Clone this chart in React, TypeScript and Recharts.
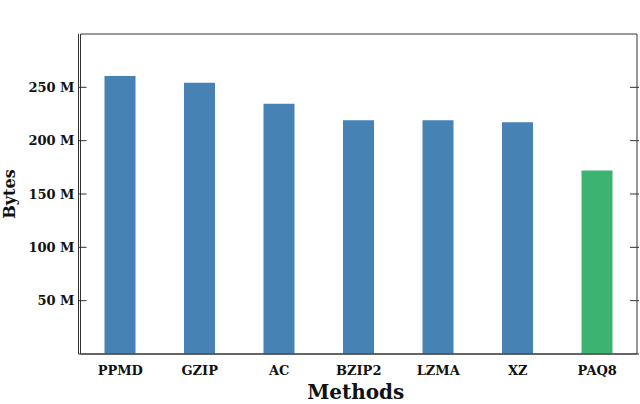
import { BarChart, Bar, XAxis, YAxis, Cell, ReferenceArea } from 'recharts';

const methods = ['PPMD', 'GZIP', 'AC', 'BZIP2', 'LZMA', 'XZ', 'PAQ8'];
const bytes = [260.7e6, 254.4e6, 234.5e6, 219.2e6, 219.2e6, 217.3e6, 172e6];
const barColors = ['#4682b4', '#4682b4', '#4682b4', '#4682b4', '#4682b4', '#4682b4', '#3cb371'];
const yTicks = [50e6, 100e6, 150e6, 200e6, 250e6];

const data = methods.map((name, i) => ({ name, bytes: bytes[i] }));

const font = '"DejaVu Serif", serif';
const axisColor = '#333';
const plotWidth = 640 - 1 - 78.5;

const fmt = (v: number) => `${v / 1e6} M`;

function LeftTick({ x, y, payload }: any) {
  const right = x + plotWidth;
  return (
    <g>
      <line x1={x} x2={x + 8} y1={y} y2={y} stroke={axisColor} strokeWidth={1} />
      <line x1={right} x2={right - 9} y1={y} y2={y} stroke={axisColor} strokeWidth={1} />
      <text x={x - 4} y={y} dy="0.36em" textAnchor="end" fontFamily={font} fontWeight="bold" fontSize={13} fill="#111">
        {fmt(payload.value)}
      </text>
    </g>
  );
}

function BottomTick({ x, y, payload }: any) {
  return (
    <text x={x} y={y + 21} textAnchor="middle" fontFamily={font} fontWeight="bold" fontSize={13} fill="#111">
      {payload.value}
    </text>
  );
}

export default function App() {
  return (
    <div style={{ position: 'absolute', left: 0, top: 0, width: 640, height: 404, background: '#fff' }}>
      <BarChart width={640} height={404} data={data} margin={{ top: 34, right: 1, bottom: 0, left: 0 }}>
        <XAxis
          dataKey="name"
          height={50}
          interval={0}
          tickLine={false}
          tickSize={0}
          tickMargin={0}
          tick={<BottomTick />}
          padding={{ left: 2, right: 2 }}
          axisLine={{ stroke: axisColor }}
          label={{
            content: ({ viewBox }: any) => (
              <text
                x={viewBox.x + viewBox.width / 2 - 3}
                y={399}
                textAnchor="middle"
                fontFamily={font}
                fontWeight="bold"
                fontSize={20}
                fill="#111"
              >
                Methods
              </text>
            ),
          }}
        />
        <YAxis
          width={78.5}
          domain={[0, 300e6]}
          ticks={yTicks}
          tickLine={false}
          tickSize={0}
          tickMargin={0}
          tick={<LeftTick />}
          axisLine={{ stroke: axisColor }}
          label={{
            content: ({ viewBox }: any) => {
              const cy = viewBox.y + viewBox.height / 2;
              return (
                <text
                  x={15}
                  y={cy}
                  transform={`rotate(-90, 15, ${cy})`}
                  textAnchor="middle"
                  fontFamily={font}
                  fontWeight="bold"
                  fontSize={16}
                  fill="#111"
                >
                  Bytes
                </text>
              );
            },
          }}
        />
        <ReferenceArea y1={0} y2={300e6} fill="none" fillOpacity={0} stroke={axisColor} strokeWidth={1} />
        <Bar dataKey="bytes" barSize={31} isAnimationActive={false}>
          {data.map((d, i) => (
            <Cell key={d.name} fill={barColors[i]} />
          ))}
        </Bar>
      </BarChart>
    </div>
  );
}
